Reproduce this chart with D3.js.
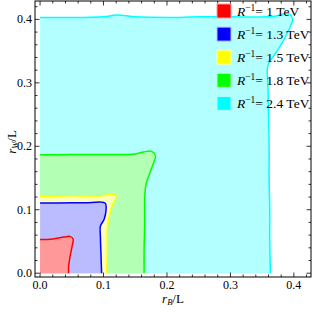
<!DOCTYPE html>
<html>
<head>
<meta charset="utf-8">
<script src="https://cdn.jsdelivr.net/npm/d3@7"></script>
<style>
  body { margin: 0; background: #fff; }
  svg { display: block; }
  text { font-family: "Liberation Serif", "DejaVu Serif", serif; }
</style>
</head>
<body>
<div id="chart"></div>
<script>
// contour data: [r_B/L, r_W/L] along each boundary, from the r_W axis to the r_B axis
var labels = ["1", "1.3", "1.5", "1.8", "2.4"];
var lineColors = ["#ff0000", "#0000ff", "#ffff00", "#00ff00", "#00ffff"];
var fillColors = ["#ff9999", "#bbbbff", "#ffffb3", "#b3ffb3", "#b3ffff"];

var red = [[0, 0.053], [0.02, 0.054], [0.038, 0.057], [0.047, 0.058], [0.052, 0.054],
  [0.050, 0.040], [0.047, 0.025], [0.045, 0.010], [0.045, 0]];
var blue = [[0, 0.1105], [0.05, 0.111], [0.071, 0.111], [0.097, 0.112], [0.103, 0.110],
  [0.104, 0.100], [0.101, 0.085], [0.095, 0.074], [0.095, 0.060], [0.096, 0.030], [0.097, 0]];
var yellow = [[0, 0.121], [0.05, 0.122], [0.097, 0.122], [0.110, 0.124], [0.118, 0.124],
  [0.120, 0.120], [0.115, 0.110], [0.109, 0.090], [0.106, 0.070], [0.106, 0.040], [0.105, 0]];
var green = [[0, 0.1866], [0.05, 0.187], [0.10, 0.187], [0.15, 0.188], [0.163, 0.191],
  [0.176, 0.192], [0.182, 0.185], [0.180, 0.177], [0.173, 0.158], [0.167, 0.140],
  [0.165, 0.120], [0.165, 0.080], [0.164, 0.040], [0.164, 0]];
var cyan = [[0, 0.403], [0.06, 0.403], [0.10, 0.404], [0.121, 0.407], [0.15, 0.404],
  [0.20, 0.403], [0.25, 0.404], [0.30, 0.404], [0.37, 0.405], [0.385, 0.409], [0.394, 0.408],
  [0.398, 0.399], [0.395, 0.390], [0.390, 0.379], [0.378, 0.357], [0.367, 0.341],
  [0.360, 0.330], [0.358, 0.320], [0.359, 0.300], [0.360, 0.250], [0.361, 0.200],
  [0.361, 0.150], [0.362, 0.100], [0.362, 0.050], [0.363, 0]];
var contours = [red, blue, yellow, green, cyan];

var majorTicks = [0, 0.1, 0.2, 0.3, 0.4];
var minorTicks = d3.range(0, 0.421, 0.02);

var width = 313, height = 312;
var svg = d3.select("#chart").append("svg")
  .attr("width", width).attr("height", height);

var x = d3.scaleLinear().domain([-0.008, 0.427]).range([35, 311]);
var y = d3.scaleLinear().domain([-0.006, 0.429]).range([277, 1]);

var line = d3.line().x(d => x(d[0])).y(d => y(d[1])).curve(d3.curveCatmullRom.alpha(0.5));

// regions, largest first
for (var i = contours.length - 1; i >= 0; i--) {
  var pts = contours[i];
  svg.append("path")
    .attr("d", line(pts) + "L" + x(0) + "," + y(0) + "Z")
    .attr("fill", fillColors[i]);
  svg.append("path")
    .attr("d", line(pts))
    .attr("fill", "none")
    .attr("stroke", lineColors[i])
    .attr("stroke-width", 1.5);
}

// frame
var x0 = x.range()[0], x1 = x.range()[1], y0 = y.range()[0], y1 = y.range()[1];
svg.append("rect")
  .attr("x", x0).attr("y", y1).attr("width", x1 - x0).attr("height", y0 - y1)
  .attr("fill", "none").attr("stroke", "#000").attr("stroke-width", 1);

// ticks on all sides, pointing in
var tg = svg.append("g").attr("stroke", "#000").attr("stroke-width", 0.8);
minorTicks.forEach(function(t) {
  var major = majorTicks.some(m => Math.abs(m - t) < 1e-6);
  var len = major ? 4.5 : 2.5;
  tg.append("line").attr("x1", x(t)).attr("x2", x(t)).attr("y1", y0).attr("y2", y0 - len);
  tg.append("line").attr("x1", x(t)).attr("x2", x(t)).attr("y1", y1).attr("y2", y1 + len);
  tg.append("line").attr("y1", y(t)).attr("y2", y(t)).attr("x1", x0).attr("x2", x0 + len);
  tg.append("line").attr("y1", y(t)).attr("y2", y(t)).attr("x1", x1).attr("x2", x1 - len);
});

// tick labels
svg.selectAll(".xl").data(majorTicks).enter().append("text")
  .attr("x", d => x(d)).attr("y", 289)
  .attr("text-anchor", "middle").attr("font-size", 12)
  .text(d => d.toFixed(1));
svg.selectAll(".yl").data(majorTicks).enter().append("text")
  .attr("x", 32).attr("y", d => y(d) + 4)
  .attr("text-anchor", "end").attr("font-size", 12)
  .text(d => d.toFixed(1));

// axis labels
var xlab = svg.append("text").attr("x", 173).attr("y", 303)
  .attr("text-anchor", "middle").attr("font-size", 13);
xlab.append("tspan").attr("font-style", "italic").text("r");
xlab.append("tspan").attr("font-style", "italic").attr("font-size", 8.5).attr("dy", 2).text("B");
xlab.append("tspan").attr("dy", -2).text("/L");

var ylab = svg.append("text")
  .attr("transform", "translate(16,142) rotate(-90)")
  .attr("text-anchor", "middle").attr("font-size", 13);
ylab.append("tspan").attr("font-style", "italic").text("r");
ylab.append("tspan").attr("font-style", "italic").attr("font-size", 8.5).attr("dy", 2).text("W");
ylab.append("tspan").attr("dy", -2).text("/L");

// legend
var legend = svg.append("g");
labels.forEach(function(lab, i) {
  var cy = 11 + i * 23.1;
  legend.append("rect")
    .attr("x", 217).attr("y", cy - 7).attr("width", 14).attr("height", 14)
    .attr("fill", lineColors[i])
    .attr("stroke", fillColors[i]).attr("stroke-width", 1);
  var t = legend.append("text").attr("x", 237).attr("y", cy + 4.5).attr("font-size", 13.5);
  t.append("tspan").attr("font-style", "italic").text("R");
  t.append("tspan").attr("font-size", 9.5).attr("dy", -5).text("\u22121");
  t.append("tspan").attr("dy", 5).text("= " + lab + " TeV");
});
</script>
</body>
</html>
